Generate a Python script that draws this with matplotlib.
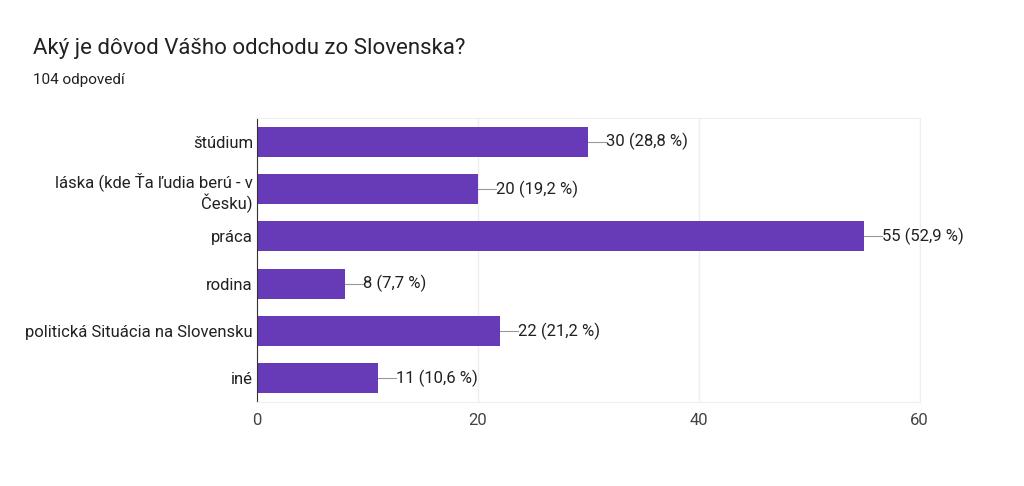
import matplotlib.pyplot as plt

plt.rcParams['font.family'] = ['Roboto', 'DejaVu Sans']

categories = ['štúdium', 'láska (kde Ťa ľudia berú - v\nČesku)', 'práca', 'rodina',
              'politická Situácia na Slovensku', 'iné']
counts = [30, 20, 55, 8, 22, 11]
labels = ['30 (28,8 %)', '20 (19,2 %)', '55 (52,9 %)', '8 (7,7 %)', '22 (21,2 %)', '11 (10,6 %)']

fig = plt.figure(figsize=(10.24, 4.86), dpi=100)
fig.text(0.032, 0.9, 'Aký je dôvod Vášho odchodu zo Slovenska?', fontsize=16, color='#202124', va='center')
fig.text(0.032, 0.835, '104 odpovedí', fontsize=11, color='#202124', va='center')

ax = fig.add_axes([0.251, 0.173, 0.647, 0.584])
y = list(range(len(categories)))
ax.barh(y, counts, height=0.64, color='#673ab7', zorder=2)
for yi, c, lab in zip(y, counts, labels):
    ax.plot([c, c + 1.6], [yi, yi], color='#999999', lw=0.8, zorder=3)
    ax.text(c + 1.6, yi, lab, va='center', ha='left', fontsize=12, color='#202124')

ax.set_ylim(len(categories) - 0.5, -0.5)
ax.set_xlim(0, 60)
ax.set_xticks([0, 20, 40, 60])
ax.set_yticks(y)
ax.set_yticklabels(categories, fontsize=12, color='#202124')
ax.tick_params(axis='x', labelsize=12, colors='#444444', length=0, pad=8)
ax.tick_params(axis='y', length=0, pad=3)
ax.grid(axis='x', color='#eeeeee', lw=1, zorder=0)
for s in ['top', 'right', 'bottom']:
    ax.spines[s].set_color('#eeeeee')
ax.spines['left'].set_color('#333333')

fig.savefig('out.png')
